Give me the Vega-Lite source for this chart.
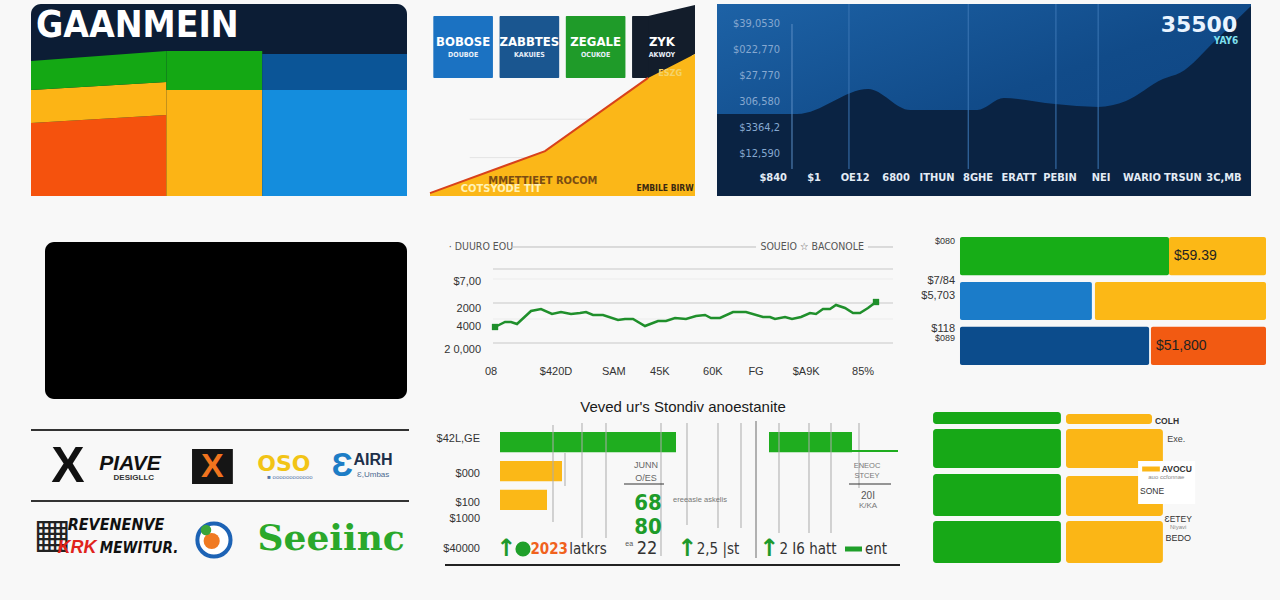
{
"$schema": "https://vega.github.io/schema/vega-lite/v6.json",
"background": "#f8f8f8",
"padding": {"left": 30, "top": 3, "right": 10, "bottom": 35},
"config": {"view": {"stroke": null}, "text": {"baseline": "middle", "font": "Liberation Sans"}},
"spacing": 39,
"resolve": {"scale": {"color": "independent"}},
"vconcat": [
{"spacing": 19, "resolve": {"scale": {"color": "independent"}}, "hconcat": [
 {"width": 376, "height": 192,
  "view": {"fill": "#0c1d35", "cornerRadius": 10, "stroke": null},
  "data": {"values": [{}]},
  "layer": [
   {"data": {"values": [
     {"col":"1","seg":"orange","x":0,"lo":0,"hi":38},
     {"col":"1","seg":"orange","x":36,"lo":0,"hi":42.2},
     {"col":"1","seg":"yellow","x":0,"lo":38,"hi":55.2},
     {"col":"1","seg":"yellow","x":36,"lo":42.2,"hi":59.4},
     {"col":"1","seg":"green","x":0,"lo":55.2,"hi":70.3},
     {"col":"1","seg":"green","x":36,"lo":59.4,"hi":75.5},
     {"col":"2","seg":"yellow","x":36,"lo":0,"hi":55.2},
     {"col":"2","seg":"yellow","x":61.5,"lo":0,"hi":55.2},
     {"col":"2","seg":"green","x":36,"lo":55.2,"hi":75.5},
     {"col":"2","seg":"green","x":61.5,"lo":55.2,"hi":75.5},
     {"col":"3","seg":"blue","x":61.5,"lo":0,"hi":55.2},
     {"col":"3","seg":"blue","x":100,"lo":0,"hi":55.2},
     {"col":"3","seg":"darkblue","x":61.5,"lo":55.2,"hi":74},
     {"col":"3","seg":"darkblue","x":100,"lo":55.2,"hi":74}]},
    "mark": {"type": "area", "interpolate": "linear", "opacity": 1},
    "encoding": {
     "x": {"field": "x", "type": "quantitative", "scale": {"domain": [0, 100], "nice": false, "zero": false}, "axis": null},
     "y": {"field": "lo", "type": "quantitative", "stack": null, "scale": {"domain": [0, 100], "nice": false}, "axis": null},
     "y2": {"field": "hi"},
     "color": {"field": "seg", "type": "nominal", "scale": {"domain": ["orange","yellow","green","blue","darkblue"], "range": ["#f5520d","#fcb415","#14a814","#148ddd","#0b5597"]}, "legend": null},
     "detail": {"field": "col"}}},
   {"mark": {"type": "text", "align": "left", "fontSize": 37, "fontWeight": "bold", "color": "#ffffff", "font": "Liberation Sans Narrow, DejaVu Sans Condensed, Liberation Sans"},
    "encoding": {"x": {"datum": 1.3, "axis": null}, "y": {"datum": 88.5, "axis": null}, "text": {"value": "GAANMEIN"}}}
  ]},
 {"spacing": 21, "resolve": {"scale": {"color": "independent"}}, "hconcat": [
  {"width": 265, "height": 192,
   "data": {"values": [{}]},
   "layer": [
    {"data": {"values": [
      {"tile":"t1","name":"BOBOSE","sub":"DOUBOE"},
      {"tile":"t2","name":"ZABBTES","sub":"KAKUIES"},
      {"tile":"t3","name":"ZEGALE","sub":"OCUKOE"},
      {"tile":"t4","name":"ZYK","sub":"AKWOY"}]},
     "layer": [
      {"mark": {"type": "bar", "cornerRadius": 1},
       "encoding": {
        "x": {"field": "tile", "type": "nominal", "scale": {"paddingInner": 0.1, "paddingOuter": 0.05}, "axis": null},
        "y": {"datum": 61.5, "type": "quantitative", "scale": {"domain": [0, 100], "nice": false}, "axis": null},
        "y2": {"datum": 93.75},
        "color": {"field": "tile", "type": "nominal", "scale": {"domain": ["t1","t2","t3","t4"], "range": ["#1b72c2","#1a5690","#1f9b29","#131d2b"]}, "legend": null}}}
     ]},
    {"layer": [
      {"mark": {"type": "rule", "color": "#e4e4e4"}, "encoding": {"y": {"datum": 40, "axis": null}, "x": {"datum": 1.5, "type": "quantitative", "scale": {"domain": [0, 10], "nice": false, "zero": false}, "axis": null}, "x2": {"datum": 10}}},
      {"mark": {"type": "rule", "color": "#e4e4e4"}, "encoding": {"y": {"datum": 20, "axis": null}, "x": {"datum": 1.5, "axis": null}, "x2": {"datum": 10}}},
      {"data": {"values": [{"x":8.23,"lo":61.5,"hi":93.75},{"x":10,"lo":74,"hi":99.5}]},
       "mark": {"type": "area", "color": "#131d2b", "opacity": 1},
       "encoding": {"x": {"field": "x", "type": "quantitative", "axis": null}, "y": {"field": "lo", "type": "quantitative", "stack": null, "axis": null}, "y2": {"field": "hi"}}},
      {"data": {"values": [{"x":0,"v":1.5},{"x":4.34,"v":23.4},{"x":8.23,"v":61.5},{"x":10,"v":74}]},
       "mark": {"type": "area", "color": "#fbb718", "opacity": 1},
       "encoding": {"x": {"field": "x", "type": "quantitative", "scale": {"domain": [0, 10], "nice": false, "zero": false}, "axis": null}, "y": {"field": "v", "type": "quantitative", "scale": {"domain": [0, 100], "nice": false}, "axis": null}}},
      {"data": {"values": [{"x":0,"v":1.5},{"x":4.34,"v":23.4},{"x":8.23,"v":61.5}]},
       "mark": {"type": "line", "color": "#d8421b", "strokeWidth": 2},
       "encoding": {"x": {"field": "x", "type": "quantitative", "axis": null}, "y": {"field": "v", "type": "quantitative", "axis": null}}},
      {"mark": {"type": "text", "fontSize": 11, "fontWeight": "bold", "color": "#7a4c12", "font": "Liberation Sans Narrow, DejaVu Sans Condensed, Liberation Sans"},
       "encoding": {"x": {"datum": 4.26, "axis": null}, "y": {"datum": 7.8, "axis": null}, "text": {"value": "MMETTIEET ROCOM"}}},
      {"mark": {"type": "text", "fontSize": 11, "fontWeight": "bold", "color": "#fff2b8", "font": "Liberation Sans Narrow, DejaVu Sans Condensed, Liberation Sans"},
       "encoding": {"x": {"datum": 2.68, "axis": null}, "y": {"datum": 3.6, "axis": null}, "text": {"value": "COTSYODE TIT"}}},
      {"mark": {"type": "text", "fontSize": 8.5, "fontWeight": "bold", "color": "#3a2810", "font": "Liberation Sans Narrow, DejaVu Sans Condensed, Liberation Sans"},
       "encoding": {"x": {"datum": 8.87, "axis": null}, "y": {"datum": 4.2, "axis": null}, "text": {"value": "EMBILE BIRW"}}},
      {"mark": {"type": "text", "fontSize": 9, "fontWeight": "bold", "color": "#f5d36a", "font": "Liberation Sans Narrow, DejaVu Sans Condensed, Liberation Sans"},
       "encoding": {"x": {"datum": 9.06, "axis": null}, "y": {"datum": 64, "axis": null}, "text": {"value": "ESZG"}}}
    ]},
    {"data": {"values": [
      {"tile":"t1","name":"BOBOSE","sub":"DOUBOE"},
      {"tile":"t2","name":"ZABBTES","sub":"KAKUIES"},
      {"tile":"t3","name":"ZEGALE","sub":"OCUKOE"},
      {"tile":"t4","name":"ZYK","sub":"AKWOY"}]},
     "layer": [
      {"mark": {"type": "text", "fontSize": 13, "fontWeight": "bold", "color": "#ffffff", "font": "Liberation Sans Narrow, DejaVu Sans Condensed, Liberation Sans"},
       "encoding": {"x": {"field": "tile", "type": "nominal", "scale": {"paddingInner": 0.1, "paddingOuter": 0.05}, "axis": null}, "y": {"datum": 80, "axis": null}, "text": {"field": "name"}}},
      {"mark": {"type": "text", "fontSize": 7, "fontWeight": "bold", "color": "#e6eef8", "font": "Liberation Sans Narrow, DejaVu Sans Condensed, Liberation Sans"},
       "encoding": {"x": {"field": "tile", "type": "nominal", "axis": null}, "y": {"datum": 73.5, "axis": null}, "text": {"field": "sub"}}}
     ]}
   ],
   "resolve": {"scale": {"x": "independent"}}},
  {"width": 534, "height": 192,
   "view": {"fill": "#114c88", "stroke": null},
   "data": {"values": [{}]},
   "layer": [
    {"mark": {"type": "rect", "color": {"gradient": "linear", "x1": 0, "y1": 0, "x2": 1, "y2": 1, "stops": [{"offset": 0, "color": "#1d62a6"}, {"offset": 0.5, "color": "#114b89"}, {"offset": 1, "color": "#0d4280"}]}},
     "encoding": {"x": {"datum": -1.37, "axis": null}, "x2": {"datum": 11.66}, "y": {"datum": -0.62, "axis": null}, "y2": {"datum": 6.77}}},
    {"data": {"values": [{"i":-1.37,"v":2.54},{"i":0.59,"v":2.54},{"i":2.32,"v":3.5},{"i":3.34,"v":2.69},{"i":4.98,"v":2.69},{"i":5.63,"v":3.15},{"i":6.88,"v":2.92},{"i":7.93,"v":2.81},{"i":8.61,"v":3.04},{"i":9.51,"v":3.88},{"i":9.93,"v":4.12},{"i":10.78,"v":5.35},{"i":11.66,"v":6.69}]},
     "mark": {"type": "area", "color": "#0a2343", "opacity": 1, "interpolate": "monotone"},
     "encoding": {
      "x": {"field": "i", "type": "quantitative", "scale": {"domain": [-1.37, 11.66], "nice": false, "zero": false}, "axis": null},
      "y": {"field": "v", "type": "quantitative", "scale": {"domain": [-0.62, 6.77], "nice": false, "zero": false}, "axis": null},
      "y2": {"datum": -0.62}}},
    {"data": {"values": [{"g":1.85},{"g":4.76},{"g":6.9},{"g":7.93}]},
     "mark": {"type": "rule", "color": "#3c76b5", "strokeWidth": 1},
     "encoding": {"x": {"field": "g", "type": "quantitative", "axis": null}, "y": {"datum": 6.77, "axis": null}, "y2": {"datum": 0.42}}},
    {"mark": {"type": "rule", "color": "#5b8cc4", "strokeWidth": 1},
     "encoding": {"x": {"datum": 0.46, "axis": null}, "y": {"datum": 6, "axis": null}, "y2": {"datum": 0.42}}},
    {"data": {"values": [{"i":0,"t":"$840"},{"i":1,"t":"$1"},{"i":2,"t":"OE12"},{"i":3,"t":"6800"},{"i":4,"t":"ITHUN"},{"i":5,"t":"8GHE"},{"i":6,"t":"ERATT"},{"i":7,"t":"PEBIN"},{"i":8,"t":"NEI"},{"i":9,"t":"WARIO"},{"i":10,"t":"TRSUN"},{"i":11,"t":"3C,MB"}]},
     "mark": {"type": "text", "fontSize": 11, "fontWeight": "bold", "color": "#e3ebf5", "font": "Liberation Sans Narrow, DejaVu Sans Condensed, Liberation Sans"},
     "encoding": {"x": {"field": "i", "type": "quantitative", "axis": null}, "y": {"datum": 0.08, "axis": null}, "text": {"field": "t"}}},
    {"data": {"values": [{"v":1,"t":"$12,590"},{"v":2,"t":"$3364,2"},{"v":3,"t":"306,580"},{"v":4,"t":"$27,770"},{"v":5,"t":"$022,770"},{"v":6,"t":"$39,0530"}]},
     "mark": {"type": "text", "align": "right", "fontSize": 11, "color": "#86a8d0", "font": "Liberation Sans Narrow, DejaVu Sans Condensed, Liberation Sans"},
     "encoding": {"x": {"datum": 0.17, "axis": null}, "y": {"field": "v", "type": "quantitative", "axis": null}, "text": {"field": "t"}}},
    {"mark": {"type": "text", "fontSize": 22, "fontWeight": "bold", "color": "#eaf4ff", "font": "DejaVu Sans"},
     "encoding": {"x": {"datum": 10.39, "axis": null}, "y": {"datum": 5.96, "axis": null}, "text": {"value": "35500"}}},
    {"mark": {"type": "text", "fontSize": 10, "fontWeight": "bold", "color": "#7fe0f0", "font": "Liberation Sans Narrow, DejaVu Sans Condensed, Liberation Sans"},
     "encoding": {"x": {"datum": 11.05, "axis": null}, "y": {"datum": 5.35, "axis": null}, "text": {"value": "YAY6"}}}
   ]}
 ]}
]},
{"spacing": 1, "resolve": {"scale": {"color": "independent"}}, "vconcat": [
 {"spacing": 37, "resolve": {"scale": {"color": "independent"}}, "hconcat": [
  {"width": 376, "height": 162,
   "data": {"values": [{}]},
   "mark": {"type": "rect", "color": "#000000", "cornerRadius": 9},
   "encoding": {
    "x": {"datum": 14, "type": "quantitative", "scale": {"domain": [0, 376], "nice": false, "zero": false}, "axis": null},
    "x2": {"datum": 376},
    "y": {"datum": 0, "type": "quantitative", "scale": {"domain": [0, 162], "nice": false}, "axis": null},
    "y2": {"datum": 157}}},
  {"spacing": 26, "resolve": {"scale": {"color": "independent"}}, "hconcat": [
   {"width": 445, "height": 162,
    "data": {"values": [{}]},
    "layer": [
     {"data": {"values": [{"g":91,"c":"main"},{"g":81,"c":"faint"},{"g":57,"c":"main"},{"g":41,"c":"faint"},{"g":17,"c":"main"}]},
      "mark": {"type": "rule", "strokeWidth": 1},
      "encoding": {"y": {"field": "g", "type": "quantitative", "axis": null}, "x": {"datum": 1, "axis": null}, "x2": {"datum": 100}, "color": {"field": "c", "type": "nominal", "scale": {"domain": ["main","faint"], "range": ["#c8c8c8","#ececec"]}, "legend": null}}},
     {"data": {"values": [{"x":1.49,"v":33},{"x":3.96,"v":38},{"x":5.45,"v":38},{"x":6.93,"v":36},{"x":10.4,"v":49},{"x":12.87,"v":51},{"x":15.59,"v":46},{"x":17.82,"v":48},{"x":20.3,"v":46},{"x":22.52,"v":47},{"x":24.01,"v":48},{"x":25.74,"v":45},{"x":28.22,"v":45},{"x":31.93,"v":40},{"x":33.66,"v":41},{"x":35.64,"v":41},{"x":38.61,"v":34},{"x":41.83,"v":39},{"x":43.81,"v":39},{"x":46.04,"v":42},{"x":48.76,"v":41},{"x":51.24,"v":44},{"x":53.47,"v":45},{"x":54.95,"v":42},{"x":57.18,"v":42},{"x":60.4,"v":48},{"x":63.61,"v":48},{"x":67.82,"v":43},{"x":69.55,"v":43},{"x":70.79,"v":41},{"x":73.27,"v":43},{"x":75,"v":41},{"x":77.23,"v":43},{"x":79.46,"v":47},{"x":80.94,"v":46},{"x":82.67,"v":51},{"x":84.41,"v":51},{"x":85.89,"v":55},{"x":88.12,"v":52},{"x":90.1,"v":47},{"x":91.83,"v":47},{"x":93.81,"v":52},{"x":95.79,"v":58}]},
      "mark": {"type": "line", "color": "#1f8f2b", "strokeWidth": 2.5},
      "encoding": {
       "x": {"field": "x", "type": "quantitative", "scale": {"domain": [-10.15, 100], "nice": false, "zero": false}, "axis": null},
       "y": {"field": "v", "type": "quantitative", "scale": {"domain": [-39, 123], "nice": false, "zero": false}, "axis": null}}},
     {"data": {"values": [{"x":1.49,"v":33},{"x":95.79,"v":58}]},
      "mark": {"type": "square", "color": "#1f8f2b", "size": 40, "opacity": 1, "filled": true},
      "encoding": {"x": {"field": "x", "type": "quantitative", "axis": null}, "y": {"field": "v", "type": "quantitative", "axis": null}}},
     {"data": {"values": [{"v":78,"t":"$7,00"},{"v":51,"t":"2000"},{"v":33,"t":"4000"},{"v":10,"t":"2 0,000"}]},
      "mark": {"type": "text", "align": "right", "fontSize": 11, "color": "#333333"},
      "encoding": {"x": {"datum": -1.98, "axis": null}, "y": {"field": "v", "type": "quantitative", "axis": null}, "text": {"field": "t"}}},
     {"data": {"values": [{"x":0.5,"t":"08"},{"x":16.6,"t":"$420D"},{"x":30.9,"t":"SAM"},{"x":42.3,"t":"45K"},{"x":55.4,"t":"60K"},{"x":66.1,"t":"FG"},{"x":78.5,"t":"$A9K"},{"x":92.6,"t":"85%"}]},
      "mark": {"type": "text", "fontSize": 11, "color": "#333333"},
      "encoding": {"x": {"field": "x", "type": "quantitative", "axis": null}, "y": {"datum": -12, "axis": null}, "text": {"field": "t"}}},
     {"mark": {"type": "text", "fontSize": 10.5, "color": "#555555", "font": "Liberation Sans Narrow, DejaVu Sans Condensed, Liberation Sans"},
      "encoding": {"x": {"datum": -2, "axis": null}, "y": {"datum": 113, "axis": null}, "text": {"value": "· DUURO EOU"}}},
     {"mark": {"type": "rule", "color": "#bdbdbd"},
      "encoding": {"x": {"datum": 5.45, "axis": null}, "x2": {"datum": 66.1}, "y": {"datum": 113, "axis": null}}},
     {"mark": {"type": "rule", "color": "#bdbdbd"},
      "encoding": {"x": {"datum": 93.8, "axis": null}, "x2": {"datum": 100}, "y": {"datum": 113, "axis": null}}},
     {"mark": {"type": "text", "fontSize": 10.5, "color": "#555555", "font": "Liberation Sans Narrow, DejaVu Sans Condensed, Liberation Sans"},
      "encoding": {"x": {"datum": 80, "axis": null}, "y": {"datum": 113, "axis": null}, "text": {"value": "SOUEIO ☆ BACONOLE"}}}
    ]},
   {"width": 346, "height": 128,
    "layer": [
     {"data": {"values": [
       {"bar":"1","seg":"green","start":0,"end":68.3},
       {"bar":"1","seg":"yellow","start":68.3,"end":100,"label":"$59.39"},
       {"bar":"2","seg":"blue","start":0,"end":43.1},
       {"bar":"2","seg":"yellow","start":44.1,"end":100},
       {"bar":"3","seg":"navy","start":0,"end":61.8},
       {"bar":"3","seg":"orange","start":62.4,"end":100,"label":"$51,800"}]},
      "layer": [
       {"mark": {"type": "bar", "cornerRadius": 2},
        "encoding": {
         "y": {"field": "bar", "type": "nominal", "scale": {"paddingInner": 0.15, "paddingOuter": 0}, "axis": null},
         "x": {"field": "start", "type": "quantitative", "scale": {"domain": [-13.07, 100], "nice": false, "zero": false}, "axis": null},
         "x2": {"field": "end"},
         "color": {"field": "seg", "type": "nominal", "scale": {"domain": ["green","yellow","blue","navy","orange"], "range": ["#17ad17","#fcb816","#1b7cc9","#0c4c8c","#f25a12"]}, "legend": null}}},
       {"transform": [{"filter": "datum.label != null"}],
        "mark": {"type": "text", "align": "left", "dx": 5, "fontSize": 14, "color": "#222222", "font": "Liberation Sans"},
        "encoding": {"y": {"field": "bar", "type": "nominal", "axis": null}, "x": {"field": "start", "type": "quantitative", "axis": null}, "text": {"field": "label"}}}
      ]},
     {"data": {"values": [{"v":124,"t":"$080","k":"s"},{"v":84,"t":"$7/84","k":"m"},{"v":69,"t":"$5,703","k":"m"},{"v":36,"t":"$118","k":"m"},{"v":27,"t":"$089","k":"s"}]},
      "mark": {"type": "text", "align": "right", "color": "#333333"},
      "encoding": {
       "x": {"datum": -1.63, "axis": null},
       "y": {"field": "v", "type": "quantitative", "scale": {"domain": [0, 128], "nice": false}, "axis": null},
       "text": {"field": "t"},
       "size": {"field": "k", "type": "nominal", "scale": {"domain": ["m","s"], "range": [11, 9]}, "legend": null}}}
    ],
    "resolve": {"scale": {"y": "independent", "color": "independent"}}}
  ]}
 ]},
 {"spacing": 26, "resolve": {"scale": {"color": "independent"}}, "hconcat": [
  {"width": 378, "height": 165,
   "data": {"values": [{}]},
   "layer": [
    {"mark": {"type": "rule", "color": "#333333", "strokeWidth": 2}, "encoding": {"y": {"datum": 138, "type": "quantitative", "scale": {"domain": [0, 165], "nice": false}, "axis": null}}},
    {"mark": {"type": "rule", "color": "#333333", "strokeWidth": 2}, "encoding": {"y": {"datum": 67, "axis": null}}},
    {"mark": {"type": "text", "fontSize": 50, "fontWeight": "bold", "color": "#111111"},
     "encoding": {"x": {"datum": 9.8, "type": "quantitative", "scale": {"domain": [0, 100], "nice": false, "zero": false}, "axis": null}, "y": {"datum": 101, "axis": null}, "text": {"value": "X"}}},
    {"mark": {"type": "text", "fontSize": 21, "fontWeight": "bold", "fontStyle": "italic", "color": "#111111"},
     "encoding": {"x": {"datum": 26.2, "axis": null}, "y": {"datum": 104, "axis": null}, "text": {"value": "PIAVE"}}},
    {"mark": {"type": "text", "fontSize": 8, "fontWeight": "bold", "color": "#333333"},
     "encoding": {"x": {"datum": 27.2, "axis": null}, "y": {"datum": 90, "axis": null}, "text": {"value": "DESIGLLC"}}},
    {"mark": {"type": "rect", "color": "#151515"},
     "encoding": {"x": {"datum": 42.6, "axis": null}, "x2": {"datum": 53.4}, "y": {"datum": 84, "axis": null}, "y2": {"datum": 119}}},
    {"mark": {"type": "text", "fontSize": 34, "fontWeight": "bold", "color": "#f0741e"},
     "encoding": {"x": {"datum": 48, "axis": null}, "y": {"datum": 101, "axis": null}, "text": {"value": "X"}}},
    {"mark": {"type": "text", "fontSize": 22, "fontWeight": "bold", "color": "#f2c416", "font": "DejaVu Sans"},
     "encoding": {"x": {"datum": 66.9, "axis": null}, "y": {"datum": 104, "axis": null}, "text": {"value": "OSO"}}},
    {"mark": {"type": "text", "fontSize": 6, "color": "#5577aa"},
     "encoding": {"x": {"datum": 68.5, "axis": null}, "y": {"datum": 91, "axis": null}, "text": {"value": "■ oooooooooooo"}}},
    {"mark": {"type": "text", "fontSize": 34, "fontWeight": "bold", "color": "#1d7dc6"},
     "encoding": {"x": {"datum": 82.3, "axis": null}, "y": {"datum": 102, "axis": null}, "text": {"value": "Ɛ"}}},
    {"mark": {"type": "text", "fontSize": 16, "fontWeight": "bold", "color": "#20304a"},
     "encoding": {"x": {"datum": 90.5, "axis": null}, "y": {"datum": 108, "axis": null}, "text": {"value": "AIRH"}}},
    {"mark": {"type": "text", "fontSize": 8, "color": "#4a6a90"},
     "encoding": {"x": {"datum": 90.5, "axis": null}, "y": {"datum": 93, "axis": null}, "text": {"value": "Ɛ,Umbas"}}},
    {"mark": {"type": "text", "fontSize": 40, "color": "#222222", "font": "DejaVu Sans"},
     "encoding": {"x": {"datum": 5.6, "axis": null}, "y": {"datum": 33, "axis": null}, "text": {"value": "▦"}}},
    {"mark": {"type": "text", "fontSize": 16, "fontWeight": "bold", "fontStyle": "italic", "color": "#111111", "font": "Liberation Sans Narrow, DejaVu Sans Condensed, Liberation Sans"},
     "encoding": {"x": {"datum": 22.5, "axis": null}, "y": {"datum": 43, "axis": null}, "text": {"value": "REVENENVE"}}},
    {"mark": {"type": "text", "fontSize": 18, "fontWeight": "bold", "fontStyle": "italic", "color": "#e0231c"},
     "encoding": {"x": {"datum": 12.2, "axis": null}, "y": {"datum": 20, "axis": null}, "text": {"value": "KRK"}}},
    {"mark": {"type": "text", "fontSize": 15, "fontWeight": "bold", "fontStyle": "italic", "color": "#111111", "font": "Liberation Sans Narrow, DejaVu Sans Condensed, Liberation Sans"},
     "encoding": {"x": {"datum": 28.6, "axis": null}, "y": {"datum": 20, "axis": null}, "text": {"value": "MEWITUR."}}},
    {"mark": {"type": "point", "shape": "circle", "size": 1100, "filled": true, "fill": "#ffffff", "stroke": "#1d63b5", "strokeWidth": 4, "opacity": 1},
     "encoding": {"x": {"datum": 48.4, "axis": null}, "y": {"datum": 28, "axis": null}}},
    {"mark": {"type": "circle", "size": 260, "color": "#f07a22", "opacity": 1},
     "encoding": {"x": {"datum": 47.8, "axis": null}, "y": {"datum": 27, "axis": null}}},
    {"mark": {"type": "circle", "size": 110, "color": "#3aa53a", "opacity": 1},
     "encoding": {"x": {"datum": 46.3, "axis": null}, "y": {"datum": 38, "axis": null}}},
    {"mark": {"type": "text", "fontSize": 36, "fontWeight": "bold", "color": "#2ba82b", "font": "DejaVu Serif"},
     "encoding": {"x": {"datum": 79.4, "axis": null}, "y": {"datum": 29, "axis": null}, "text": {"value": "Seeiinc"}}}
   ]},
  {"spacing": 29, "resolve": {"scale": {"color": "independent"}}, "hconcat": [
   {"width": 455, "height": 165,
    "data": {"values": [{}]},
    "layer": [
     {"data": {"values": [
       {"row":"a","c":"g","start":0,"end":44},
       {"row":"a","c":"g","start":67.25,"end":88},
       {"row":"b","c":"y","start":0,"end":15.5},
       {"row":"c","c":"y","start":0,"end":11.75}]},
      "mark": {"type": "bar"},
      "encoding": {
       "y": {"field": "row", "type": "nominal", "scale": {"domain": ["p0","a","b","c","p1","p2"], "paddingInner": 0.3, "paddingOuter": 0}, "axis": null},
       "x": {"field": "start", "type": "quantitative", "scale": {"domain": [-13.75, 100], "nice": false, "zero": false}, "axis": null},
       "x2": {"field": "end"},
       "color": {"field": "c", "type": "nominal", "scale": {"domain": ["g","y"], "range": ["#1fad1f","#fbb817"]}, "legend": null}}},
     {"layer": [
       {"data": {"values": [{"x":13.25,"top":143,"bot":46},{"x":16.25,"top":115,"bot":82},{"x":20.5,"top":145,"bot":30},{"x":26.5,"top":145,"bot":30},{"x":40.25,"top":145,"bot":12},{"x":46.75,"top":145,"bot":43},{"x":54.5,"top":145,"bot":40},{"x":60.25,"top":145,"bot":40},{"x":64,"top":147,"bot":10},{"x":69.75,"top":145,"bot":35},{"x":77.25,"top":145,"bot":35},{"x":82.75,"top":145,"bot":35},{"x":89.75,"top":145,"bot":80}]},
        "mark": {"type": "rule", "strokeWidth": 1},
        "encoding": {
         "x": {"field": "x", "type": "quantitative", "scale": {"domain": [-13.75, 100], "nice": false, "zero": false}, "axis": null},
         "y": {"field": "top", "type": "quantitative", "scale": {"domain": [0, 165], "nice": false}, "axis": null},
         "y2": {"field": "bot"},
         "color": {"condition": {"test": "datum.x == 64", "value": "#6a6a6a"}, "value": "#ababab"}}},
       {"data": {"values": [{"v":129,"t":"$42L,GE"},{"v":94,"t":"$000"},{"v":65,"t":"$100"},{"v":49,"t":"$1000"},{"v":19,"t":"$40000"}]},
        "mark": {"type": "text", "align": "right", "fontSize": 11, "color": "#333333"},
        "encoding": {"x": {"datum": -5, "axis": null}, "y": {"field": "v", "type": "quantitative", "axis": null}, "text": {"field": "t"}}},
       {"mark": {"type": "rule", "color": "#1fad1f", "strokeWidth": 2},
        "encoding": {"x": {"datum": 88, "axis": null}, "x2": {"datum": 99.5}, "y": {"datum": 117, "axis": null}}},
       {"mark": {"type": "text", "fontSize": 15, "color": "#1a1a1a"},
        "encoding": {"x": {"datum": 45.75, "axis": null}, "y": {"datum": 161, "axis": null}, "text": {"value": "Veved ur's Stondiv anoestanite"}}},
       {"mark": {"type": "text", "fontSize": 9, "color": "#666666"},
        "encoding": {"x": {"datum": 36.5, "axis": null}, "y": {"datum": 103, "axis": null}, "text": {"value": "JUNN"}}},
       {"mark": {"type": "text", "fontSize": 9, "color": "#666666"},
        "encoding": {"x": {"datum": 36.5, "axis": null}, "y": {"datum": 90, "axis": null}, "text": {"value": "O/ES"}}},
       {"mark": {"type": "rule", "color": "#333333"},
        "encoding": {"x": {"datum": 31, "axis": null}, "x2": {"datum": 41}, "y": {"datum": 84, "axis": null}}},
       {"mark": {"type": "text", "fontSize": 22, "fontWeight": "bold", "color": "#1e9c2a", "font": "Liberation Sans Narrow, DejaVu Sans Condensed, Liberation Sans"},
        "encoding": {"x": {"datum": 37, "axis": null}, "y": {"datum": 65, "axis": null}, "text": {"value": "68"}}},
       {"mark": {"type": "text", "fontSize": 22, "fontWeight": "bold", "color": "#1e9c2a", "font": "Liberation Sans Narrow, DejaVu Sans Condensed, Liberation Sans"},
        "encoding": {"x": {"datum": 37, "axis": null}, "y": {"datum": 41, "axis": null}, "text": {"value": "80"}}},
       {"mark": {"type": "text", "fontSize": 7.5, "color": "#777777"},
        "encoding": {"x": {"datum": 50, "axis": null}, "y": {"datum": 68, "axis": null}, "text": {"value": "ereeasle askelis"}}},
       {"mark": {"type": "text", "fontSize": 7.5, "color": "#777777"},
        "encoding": {"x": {"datum": 91.75, "axis": null}, "y": {"datum": 102, "axis": null}, "text": {"value": "ENEOC"}}},
       {"mark": {"type": "text", "fontSize": 7.5, "color": "#777777"},
        "encoding": {"x": {"datum": 91.75, "axis": null}, "y": {"datum": 92, "axis": null}, "text": {"value": "STCEY"}}},
       {"mark": {"type": "rule", "color": "#333333"},
        "encoding": {"x": {"datum": 87.25, "axis": null}, "x2": {"datum": 97.75}, "y": {"datum": 84, "axis": null}}},
       {"mark": {"type": "text", "fontSize": 10, "color": "#555555"},
        "encoding": {"x": {"datum": 92, "axis": null}, "y": {"datum": 72, "axis": null}, "text": {"value": "20I"}}},
       {"mark": {"type": "text", "fontSize": 8, "color": "#777777"},
        "encoding": {"x": {"datum": 92, "axis": null}, "y": {"datum": 62, "axis": null}, "text": {"value": "K/KA"}}},
       {"mark": {"type": "text", "fontSize": 24, "fontWeight": "bold", "color": "#1f9a2a", "font": "DejaVu Sans"},
        "encoding": {"x": {"datum": 1.5, "axis": null}, "y": {"datum": 19, "axis": null}, "text": {"value": "↑"}}},
       {"mark": {"type": "circle", "size": 230, "color": "#1f9f2a", "opacity": 1},
        "encoding": {"x": {"datum": 5.75, "axis": null}, "y": {"datum": 19, "axis": null}}},
       {"mark": {"type": "text", "fontSize": 15, "fontWeight": "bold", "color": "#f0621d", "font": "Liberation Sans Narrow, DejaVu Sans Condensed, Liberation Sans"},
        "encoding": {"x": {"datum": 12.3, "axis": null}, "y": {"datum": 19, "axis": null}, "text": {"value": "2023"}}},
       {"mark": {"type": "text", "fontSize": 15, "color": "#333333", "font": "Liberation Sans Narrow, DejaVu Sans Condensed, Liberation Sans"},
        "encoding": {"x": {"datum": 22, "axis": null}, "y": {"datum": 19, "axis": null}, "text": {"value": "latkrs"}}},
       {"mark": {"type": "text", "fontSize": 7, "color": "#555555"},
        "encoding": {"x": {"datum": 32.3, "axis": null}, "y": {"datum": 24, "axis": null}, "text": {"value": "ea"}}},
       {"mark": {"type": "text", "fontSize": 18, "color": "#333333", "font": "Liberation Sans Narrow, DejaVu Sans Condensed, Liberation Sans"},
        "encoding": {"x": {"datum": 36.75, "axis": null}, "y": {"datum": 19, "axis": null}, "text": {"value": "22"}}},
       {"mark": {"type": "text", "fontSize": 24, "fontWeight": "bold", "color": "#1f9a2a", "font": "DejaVu Sans"},
        "encoding": {"x": {"datum": 46.75, "axis": null}, "y": {"datum": 19, "axis": null}, "text": {"value": "↑"}}},
       {"mark": {"type": "text", "fontSize": 15, "color": "#333333", "font": "Liberation Sans Narrow, DejaVu Sans Condensed, Liberation Sans"},
        "encoding": {"x": {"datum": 54.5, "axis": null}, "y": {"datum": 19, "axis": null}, "text": {"value": "2,5 |st"}}},
       {"mark": {"type": "text", "fontSize": 24, "fontWeight": "bold", "color": "#1f9a2a", "font": "DejaVu Sans"},
        "encoding": {"x": {"datum": 67.25, "axis": null}, "y": {"datum": 19, "axis": null}, "text": {"value": "↑"}}},
       {"mark": {"type": "text", "fontSize": 15, "color": "#333333", "font": "Liberation Sans Narrow, DejaVu Sans Condensed, Liberation Sans"},
        "encoding": {"x": {"datum": 77, "axis": null}, "y": {"datum": 19, "axis": null}, "text": {"value": "2 I6 hatt"}}},
       {"mark": {"type": "rule", "color": "#1f9f2a", "strokeWidth": 5},
        "encoding": {"x": {"datum": 86.25, "axis": null}, "x2": {"datum": 90.5}, "y": {"datum": 19, "axis": null}}},
       {"mark": {"type": "text", "fontSize": 15, "color": "#333333", "font": "Liberation Sans Narrow, DejaVu Sans Condensed, Liberation Sans"},
        "encoding": {"x": {"datum": 94, "axis": null}, "y": {"datum": 19, "axis": null}, "text": {"value": "ent"}}},
       {"mark": {"type": "rule", "color": "#222222", "strokeWidth": 2},
        "encoding": {"x": {"datum": -13.75, "axis": null}, "x2": {"datum": 100}, "y": {"datum": 3, "axis": null}}}
     ]}
    ],
    "resolve": {"scale": {"y": "independent"}}},
   {"width": 340, "height": 165,
    "data": {"values": [{}]},
    "layer": [
     {"data": {"values": [
       {"r":0,"c":"green","x0":0.9,"x1":38.5,"y0":144,"y1":156},
       {"r":0,"c":"yellow","x0":40,"x1":65.3,"y0":144,"y1":154},
       {"r":1,"c":"green","x0":0.9,"x1":38.5,"y0":100,"y1":139},
       {"r":1,"c":"yellow","x0":40,"x1":68.5,"y0":100,"y1":139},
       {"r":2,"c":"green","x0":0.9,"x1":38.5,"y0":52,"y1":94},
       {"r":2,"c":"yellow","x0":40,"x1":68.5,"y0":52,"y1":92},
       {"r":3,"c":"green","x0":0.9,"x1":38.5,"y0":5,"y1":47},
       {"r":3,"c":"yellow","x0":40,"x1":68.5,"y0":5,"y1":47}]},
      "mark": {"type": "rect", "cornerRadius": 3},
      "encoding": {
       "x": {"field": "x0", "type": "quantitative", "scale": {"domain": [0, 100], "nice": false, "zero": false}, "axis": null},
       "x2": {"field": "x1"},
       "y": {"field": "y0", "type": "quantitative", "scale": {"domain": [0, 165], "nice": false}, "axis": null},
       "y2": {"field": "y1"},
       "color": {"field": "c", "type": "nominal", "scale": {"domain": ["green","yellow"], "range": ["#17a817","#fbb616"]}, "legend": null}}},
     {"mark": {"type": "rect", "color": "#ffffff"},
      "encoding": {"x": {"datum": 61.2, "axis": null}, "x2": {"datum": 78}, "y": {"datum": 64, "axis": null}, "y2": {"datum": 107}}},
     {"mark": {"type": "rule", "color": "#fbb616", "strokeWidth": 5},
      "encoding": {"x": {"datum": 62.4, "axis": null}, "x2": {"datum": 67.6}, "y": {"datum": 99, "axis": null}}},
     {"mark": {"type": "text", "fontSize": 8.5, "fontWeight": "bold", "color": "#333333"},
      "encoding": {"x": {"datum": 72.6, "axis": null}, "y": {"datum": 99, "axis": null}, "text": {"value": "AVOCU"}}},
     {"mark": {"type": "text", "fontSize": 6, "color": "#888888"},
      "encoding": {"x": {"datum": 69.5, "axis": null}, "y": {"datum": 91, "axis": null}, "text": {"value": "auo ccfonnae"}}},
     {"mark": {"type": "text", "fontSize": 8.5, "color": "#333333"},
      "encoding": {"x": {"datum": 65.3, "axis": null}, "y": {"datum": 77, "axis": null}, "text": {"value": "SONE"}}},
     {"mark": {"type": "text", "fontSize": 8.5, "fontWeight": "bold", "color": "#333333"},
      "encoding": {"x": {"datum": 69.7, "axis": null}, "y": {"datum": 147, "axis": null}, "text": {"value": "COLH"}}},
     {"mark": {"type": "text", "fontSize": 9, "color": "#444444"},
      "encoding": {"x": {"datum": 72.4, "axis": null}, "y": {"datum": 129, "axis": null}, "text": {"value": "Exe."}}},
     {"mark": {"type": "text", "fontSize": 8.5, "color": "#333333"},
      "encoding": {"x": {"datum": 73, "axis": null}, "y": {"datum": 49, "axis": null}, "text": {"value": "ƐETEY"}}},
     {"mark": {"type": "text", "fontSize": 6, "color": "#888888"},
      "encoding": {"x": {"datum": 73, "axis": null}, "y": {"datum": 41, "axis": null}, "text": {"value": "Niyavi"}}},
     {"mark": {"type": "text", "fontSize": 9, "color": "#333333"},
      "encoding": {"x": {"datum": 73, "axis": null}, "y": {"datum": 30, "axis": null}, "text": {"value": "BEDO"}}}
    ]}
  ]}
 ]}
]}
]
}
